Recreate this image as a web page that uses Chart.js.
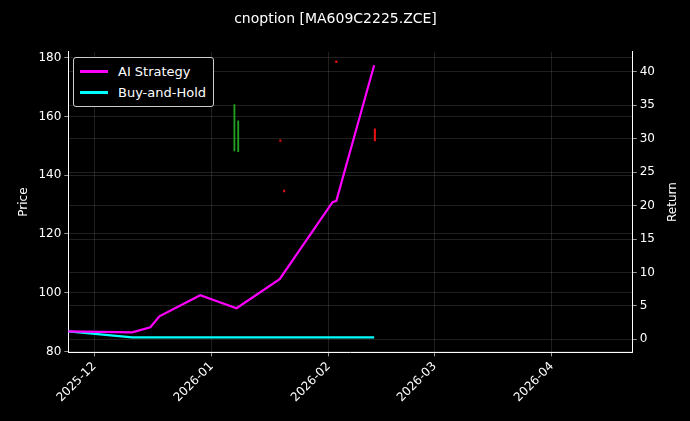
<!DOCTYPE html>
<html>
<head>
<meta charset="utf-8">
<script src="https://cdn.jsdelivr.net/npm/chart.js@4"></script>
<style>
  body { margin: 0; background: #000; }
  #wrap { position: relative; width: 690px; height: 421px; }
  #legend { position: absolute; left: 73px; top: 57px; border: 1px solid #ccc; border-radius: 3px;
    background: #000; color: #fff; font: 13px "DejaVu Sans", sans-serif; padding: 3px 7px 3px 6px; }
  #legend div { display: flex; align-items: center; height: 21px; }
  #legend span.sw { display: inline-block; width: 28px; height: 3px; margin-right: 10px; }
</style>
</head>
<body>
<div id="wrap">
  <canvas id="c" width="690" height="421"></canvas>
  <div id="legend">
    <div><span class="sw" style="background:#ff00ff"></span>AI Strategy</div>
    <div><span class="sw" style="background:#00ffff"></span>Buy-and-Hold</div>
  </div>
</div>
<script>
// x values are days since 2025-12-01
const monthTicks = [0, 31, 62, 90, 121];
const monthLabels = ["2025-12", "2026-01", "2026-02", "2026-03", "2026-04"];

const aiDays = [-6.9, 10, 14.8, 17.2, 28, 37.6, 49, 63, 64, 74];
const aiReturn = [1.2, 1.05, 1.8, 3.45, 6.6, 4.65, 9.0, 20.5, 20.7, 41.0];

const bhDays = [-6.9, 10, 74];
const bhReturn = [1.2, 0.3, 0.3];

const upDays = [37.2, 38.2];
const upRange = [[148.3, 164], [148, 158.5]];
const downDays = [74, 63.8, 49, 50];
const downRange = [[151.7, 155.8], [178.3, 178.9], [151.5, 152], [134.3, 134.9]];

const pts = (xs, ys) => xs.map((x, i) => ({ x, y: ys[i] }));

const dashGrid = { color: "rgba(130,130,130,0.4)", lineWidth: 0.6, borderDash: [2, 2] };

const rightTitle = {
  id: "rightTitle",
  afterDraw(chart) {
    const a = chart.chartArea, c = chart.ctx;
    c.save();
    c.translate(673, (a.top + a.bottom) / 2);
    c.rotate(-Math.PI / 2);
    c.fillStyle = "#fff";
    c.font = "12px 'DejaVu Sans'";
    c.textAlign = "center";
    c.textBaseline = "middle";
    c.fillText("Return", 0, 0);
    c.restore();
  }
};

new Chart(document.getElementById("c"), {
  data: {
    datasets: [
      { type: "bar", data: pts(upDays, upRange), backgroundColor: "#1fa01f", barThickness: 1.2, yAxisID: "y" },
      { type: "bar", data: pts(downDays, downRange), backgroundColor: "#e01010", barThickness: 1.5, yAxisID: "y" },
      { type: "line", data: pts(aiDays, aiReturn), borderColor: "#ff00ff", borderWidth: 2.2, pointRadius: 0, yAxisID: "y2" },
      { type: "line", data: pts(bhDays, bhReturn), borderColor: "#00ffff", borderWidth: 2.2, pointRadius: 0, yAxisID: "y2" }
    ]
  },
  plugins: [rightTitle],
  options: {
    responsive: false,
    animation: false,
    layout: { padding: { top: 0, left: 13, right: 32, bottom: 13 } },
    plugins: {
      legend: { display: false },
      tooltip: { enabled: false },
      title: { display: true, text: "cnoption [MA609C2225.ZCE]", color: "#fff",
        font: { family: "DejaVu Sans", size: 14, weight: "normal" }, padding: { top: 11, bottom: 24 } }
    },
    scales: {
      x: {
        type: "linear", min: -6.9, max: 142.4, offset: false,
        afterBuildTicks: s => { s.ticks = monthTicks.map(v => ({ value: v })); },
        ticks: { color: "#fff", font: { family: "DejaVu Sans", size: 12 }, minRotation: 45, maxRotation: 45,
          callback: v => monthLabels[monthTicks.indexOf(v)] },
        grid: { ...dashGrid, offset: false, tickColor: "#fff", tickLength: 4 },
        border: { color: "#fff", width: 1 }
      },
      y: {
        position: "left", min: 79.7, max: 182,
        afterBuildTicks: s => { s.ticks = [80, 100, 120, 140, 160, 180].map(v => ({ value: v })); },
        title: { display: true, text: "Price", color: "#fff", font: { family: "DejaVu Sans", size: 12 } },
        ticks: { color: "#fff", font: { family: "DejaVu Sans", size: 12 } },
        grid: { ...dashGrid, tickColor: "#fff", tickLength: 4 },
        border: { color: "#fff", width: 1 }
      },
      y2: {
        position: "right", min: -1.95, max: 43,
        afterBuildTicks: s => { s.ticks = [0, 5, 10, 15, 20, 25, 30, 35, 40].map(v => ({ value: v })); },
        ticks: { color: "#fff", font: { family: "DejaVu Sans", size: 12 } },
        grid: { ...dashGrid, tickColor: "#fff", tickLength: 4 },
        border: { color: "#fff", width: 1 }
      }
    }
  }
});
</script>
</body>
</html>
